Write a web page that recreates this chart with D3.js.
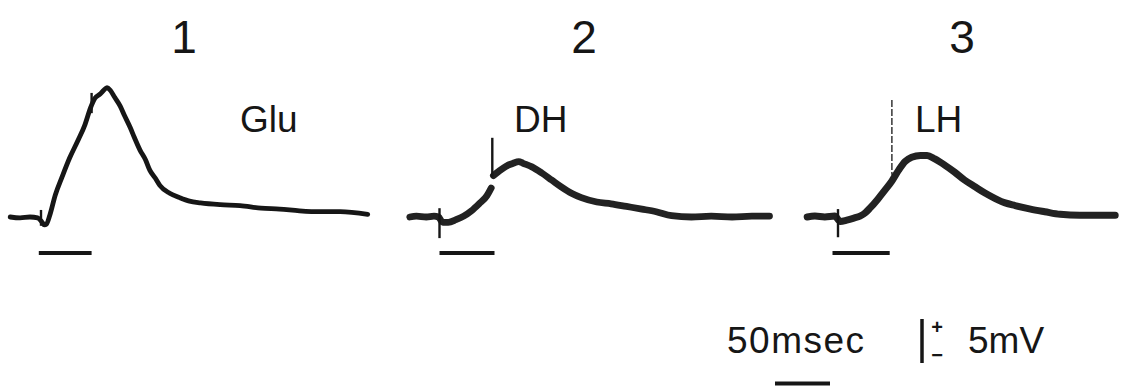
<!DOCTYPE html>
<html><head><meta charset="utf-8">
<script src="https://cdn.jsdelivr.net/npm/d3@7"></script>
<style>html,body{margin:0;padding:0;background:#fff;} svg{display:block}</style>
</head><body><svg id="c" width="1121" height="386"></svg>
<script>
// ---- data (time in ms relative to stimulus onset, potential in mV relative to baseline)
const panels = ["1", "2", "3"];
const drugs = ["Glu", "DH", "LH"];

const trace1T = [-28,-19,-10,-3,1,3,5,8,13,19,26,34,40,45,49,54,57,60,63,67,72,76,81,85,90,95,99,104,108,117,126,135,145,163,181,200,217,235,254,272,297];
const trace1V = [0,-0.1,0,-0.1,-0.6,-0.9,-0.8,0.2,2.5,4.5,6.7,8.8,10.5,12.4,13.5,14.0,14.4,14.7,14.4,13.6,12.6,11.5,10.2,9.0,7.6,6.5,5.3,4.4,3.6,2.7,2.2,1.8,1.6,1.4,1.3,1.0,0.9,0.7,0.6,0.6,0.3];

const trace2T = [-27,-21,-12,-5,-1,3,8,15,22,29,36,43,47,48,49,54,61,67,72,76,84,93,102,111,120,129,143,156,170,184,197,211,229,247,266,284,300];
const trace2V = [0,0.1,0,0.1,0,-0.6,-0.6,-0.3,0.1,0.7,1.5,2.4,3.3,null,4.7,5.2,5.8,6.1,6.3,6.1,5.7,5.0,4.2,3.4,2.7,2.2,1.7,1.5,1.2,0.9,0.6,0.15,0,0.1,0,0.1,0.1];

const trace3T = [-28,-21,-12,-3,2,8,15,20,25,29,36,43,49,55,61,67,75,81,88,97,106,115,125,134,143,152,161,175,188,202,220,238,252];
const trace3V = [0,0.1,0,0.1,-0.5,-0.35,-0.1,0.1,0.5,1.0,2.0,3.1,4.1,5.3,6.3,6.8,7.0,7.0,6.6,5.9,5.1,4.2,3.4,2.7,2.1,1.6,1.3,0.9,0.6,0.3,0.2,0.2,0.2];

// artifacts (vertical spikes): panel index, time, top, bottom (mV)
const artPanel  = [0, 0, 1, 1, 2, 2];
const artT      = [0, 46, 0, 48, 0, 49];
const artTop    = [0.8, 14.1, 1.0, 9.0, 0.9, 13.3];
const artBottom = [-1.0, 11.8, -2.4, 4.5, -2.3, 4.8];

// stimulus application bars (ms)
const stimOn  = [-2, 0, -5];
const stimOff = [46, 50, 47];

// calibration
const calTime = 50;   // msec
const calVolt = 5;    // mV
const calTimeLabel = "50msec";
const calVoltLabel = "5mV";

// ---- scales
const svg = d3.select("#c");
const panelX = d3.scaleBand().domain(panels).range([41, 41 + 3 * 398.5]);
const tx = d3.scaleLinear().domain([0, 50]).range([0, 55]);          // ms -> px offset
const vy = d3.scaleLinear().domain([0, 5]).range([217, 173]);         // mV -> px

const traces = [
  trace1T.map((t, i) => ({t, v: trace1V[i]})),
  trace2T.map((t, i) => ({t, v: trace2V[i]})),
  trace3T.map((t, i) => ({t, v: trace3V[i]}))
];
const widths = [4.8, 6.8, 7];
const ink = "#161616";
const font = "Liberation Sans, Arial, sans-serif";

panels.forEach((p, pi) => {
  const x0 = panelX(p);
  const line = d3.line()
    .defined(d => d.v !== null)
    .x(d => x0 + tx(d.t))
    .y(d => vy(d.v))
    .curve(d3.curveMonotoneX);
  svg.append("path")
    .datum(traces[pi])
    .attr("d", line)
    .attr("fill", "none")
    .attr("stroke", pi === 0 ? ink : "#222")
    .attr("stroke-width", widths[pi])
    .attr("stroke-linejoin", "round")
    .attr("stroke-linecap", "round");

  // stimulus bar
  svg.append("line")
    .attr("x1", x0 + tx(stimOn[pi])).attr("x2", x0 + tx(stimOff[pi]))
    .attr("y1", vy(-4.1)).attr("y2", vy(-4.1))
    .attr("stroke", ink).attr("stroke-width", 4);

  // panel number
  svg.append("text")
    .attr("x", [184, 584, 962][pi]).attr("y", 53)
    .attr("text-anchor", "middle")
    .attr("font-family", font)
    .attr("font-size", 46).attr("fill", ink)
    .text(p);

  // drug label
  svg.append("text")
    .attr("x", [240, 514, 915][pi]).attr("y", 132)
    .attr("font-family", font)
    .attr("font-size", 37).attr("fill", ink)
    .text(drugs[pi]);
});

// artifacts
artPanel.forEach((pi, i) => {
  const x = panelX(panels[pi]) + tx(artT[i]);
  const faint = (pi === 2 && i === 5);
  svg.append("line")
    .attr("x1", x).attr("x2", x)
    .attr("y1", vy(artTop[i])).attr("y2", vy(artBottom[i]))
    .attr("stroke", ink)
    .attr("stroke-width", faint ? 1.3 : 2.4)
    .attr("stroke-dasharray", faint ? "7,2" : null);
});

// calibration bars
const calX = 775;
svg.append("line")
  .attr("x1", calX).attr("x2", calX + tx(calTime))
  .attr("y1", 383.5).attr("y2", 383.5)
  .attr("stroke", ink).attr("stroke-width", 4);
const vbX = 922, vbTop = 319;
svg.append("line")
  .attr("x1", vbX).attr("x2", vbX)
  .attr("y1", vbTop).attr("y2", vbTop + (vy(0) - vy(calVolt)))
  .attr("stroke", ink).attr("stroke-width", 3.5);

svg.append("text").attr("x", 727).attr("y", 353)
  .attr("font-family", font)
  .attr("font-size", 37).attr("fill", ink).attr("letter-spacing", 1.5)
  .text(calTimeLabel);
svg.append("text").attr("x", 937).attr("y", 334)
  .attr("text-anchor", "middle")
  .attr("font-family", font)
  .attr("font-size", 20).attr("font-weight", "bold").attr("fill", ink)
  .text("+");
svg.append("text").attr("x", 937).attr("y", 362)
  .attr("text-anchor", "middle")
  .attr("font-family", font)
  .attr("font-size", 20).attr("font-weight", "bold").attr("fill", ink)
  .text("−");
svg.append("text").attr("x", 968).attr("y", 353)
  .attr("font-family", font)
  .attr("font-size", 37).attr("fill", ink)
  .text(calVoltLabel);
</script>
</body></html>
